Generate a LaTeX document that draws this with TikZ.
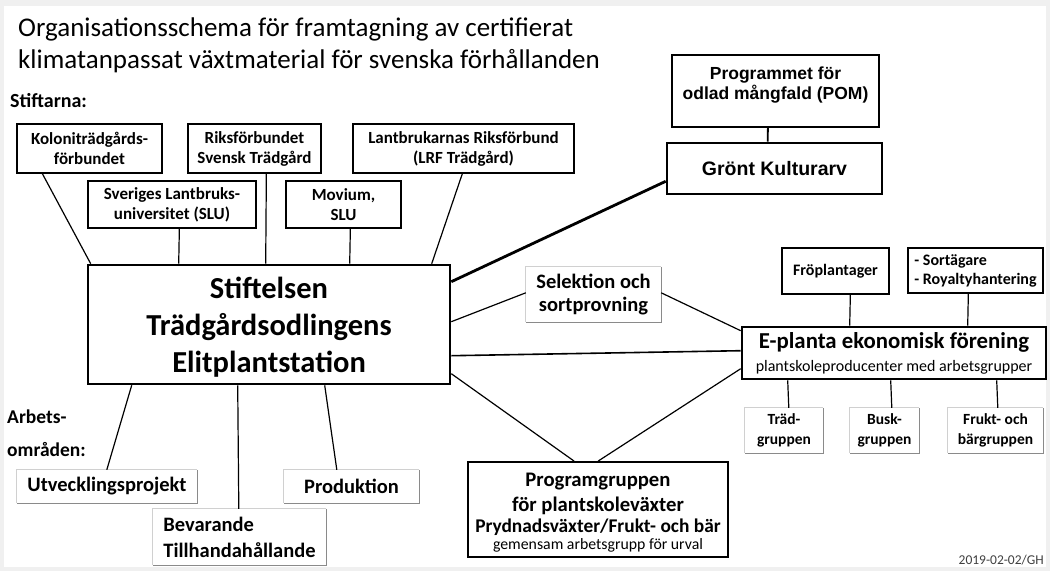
\documentclass[tikz,border=0pt]{standalone}
\usepackage{fontspec}
\setmainfont{Carlito}
\newfontfamily\arialf{Liberation Sans}
\definecolor{outerbg}{HTML}{F0F0F0}
\definecolor{lightedge}{HTML}{D0D0D0}
\definecolor{darkedge}{HTML}{8A8A8A}
\definecolor{dategray}{HTML}{404040}
\begin{document}
\begin{tikzpicture}[x=1pt,y=-1pt,
  box/.style={draw, fill=white, align=center, inner sep=0pt},
  stbox/.style={box, line width=1.3pt, font=\bfseries\fontsize{17}{20}\selectfont},
  mainbox/.style={box, line width=2.6pt},
  maintext/.style={inner sep=0pt, align=center, font=\bfseries\fontsize{30.5}{37}\selectfont},
  pombox/.style={box, line width=2.2pt},
  pomtext/.style={inner sep=0pt, align=center, font=\arialf\bfseries\fontsize{17.5}{20}\selectfont},
  grbox/.style={box, line width=2.6pt, font=\arialf\bfseries\fontsize{19.5}{22}\selectfont},
  eplbox/.style={box, line width=2.6pt, font=\fontsize{22.8}{23}\selectfont},
  progbox/.style={box, line width=1.8pt},
  progtext/.style={inner sep=0pt, anchor=base},
  shbox/.style={fill=white, align=center, inner sep=0pt},
  shtext/.style={shbox, font=\bfseries\fontsize{20.5}{23}\selectfont},
  smtext/.style={shbox, font=\bfseries\fontsize{15.5}{20}\selectfont},
  rbox/.style={box, line width=1.3pt, font=\bfseries\fontsize{16}{19}\selectfont},
  conn/.style={line width=1.2pt},
  thickconn/.style={line width=2.8pt},
  lbl/.style={inner sep=0pt, anchor=base west}
]
\useasboundingbox (0,0) rectangle (1050,571);
\fill[outerbg] (0,0) rectangle (1050,571);
\fill[white] (4,6) rectangle (1046,567);

% title and labels
\node[lbl, font=\fontsize{27}{30}\selectfont] (t1) at (18,36) {Organisationsschema för framtagning av certifierat};
\node[lbl, font=\fontsize{27}{30}\selectfont] (t2) at (18,68) {klimatanpassat växtmaterial för svenska förhållanden};
\node[lbl, font=\bfseries\fontsize{20}{20}\selectfont] (stiftarna) at (10,107) {Stiftarna:};
\node[lbl, font=\bfseries\fontsize{19.5}{20}\selectfont] (arb1) at (7,423) {Arbets-};
\node[lbl, font=\bfseries\fontsize{19.5}{20}\selectfont] (arb2) at (7,456) {områden:};
\node[inner sep=0pt, anchor=base east, text=dategray, font=\fontsize{13.5}{14}\selectfont] (date) at (1044,564) {2019-02-02/GH};

% founders
\node[stbox, minimum width=145, minimum height=49] (kolo) at (89.5,148.5) {Koloniträdgårds-\\förbundet};
\node[stbox, minimum width=133, minimum height=49] (riks) at (254.5,148.5) {Riksförbundet\\Svensk Trädgård};
\node[stbox, minimum width=221, minimum height=49] (lrf) at (463.5,148.5) {Lantbrukarnas Riksförbund\\(LRF Trädgård)};
\node[stbox, minimum width=168, minimum height=47] (slu) at (172,204.5) {Sveriges Lantbruks-\\universitet (SLU)};
\node[stbox, minimum width=115, minimum height=47] (mov) at (343.5,204.5) {Movium,\\SLU};

% main
\node[mainbox, minimum width=362, minimum height=119] (stift) at (269,324.5) {};
\node[maintext] (stifttext) at ([yshift=-3pt]stift.center) {Stiftelsen\\Trädgårdsodlingens\\Elitplantstation};

% POM and Gront Kulturarv
\node[pombox, minimum width=207, minimum height=72] (pom) at (775.5,91) {};
\node[pomtext] (pomtext) at ([yshift=6pt]pom.center) {Programmet för\\odlad mångfald (POM)};
\node[grbox, minimum width=215, minimum height=51] (gront) at (774.5,168.5) {Grönt Kulturarv};

% Selektion
\node[shtext, minimum width=135, minimum height=55] (selek) at (593.5,294.5) {Selektion och\\sortprovning};

% E-planta
\node[rbox, minimum width=107, minimum height=46] (frop) at (835.5,271) {Fröplantager};
\node[rbox, align=left, minimum width=135, minimum height=45] (sort) at (975.5,270.5) {- Sortägare\\- Royaltyhantering};
\node[eplbox, minimum width=304, minimum height=52] (epl) at (894,353) {{\bfseries E-planta ekonomisk förening}\\{\fontsize{16}{18}\selectfont plantskoleproducenter med arbetsgrupper}};
\node[smtext, minimum width=78, minimum height=45] (trad) at (784,430.5) {Träd-\\gruppen};
\node[smtext, minimum width=69, minimum height=45] (busk) at (884.5,430.5) {Busk-\\gruppen};
\node[smtext, minimum width=95, minimum height=45] (frukt) at (995.5,430.5) {Frukt- och\\bärgruppen};

% Programgruppen
\node[progbox, minimum width=260, minimum height=95] (prog) at (598,509.5) {};
\node[progtext, font=\bfseries\fontsize{20.7}{24}\selectfont] (pg1) at ([yshift=-25pt]prog.north) {Programgruppen};
\node[progtext, font=\bfseries\fontsize{20.7}{24}\selectfont] (pg2) at ([yshift=-50pt]prog.north) {för plantskoleväxter};
\node[progtext, font=\bfseries\fontsize{19.4}{22}\selectfont] (pg3) at ([yshift=-71pt]prog.north) {Prydnadsväxter/Frukt- och bär};
\node[progtext, font=\fontsize{15.8}{18}\selectfont] (pg4) at ([yshift=-88.5pt]prog.north) {gemensam arbetsgrupp för urval};

% work areas
\node[shtext, minimum width=180, minimum height=33] (utv) at (107,486.5) {Utvecklingsprojekt};
\node[shtext, align=left, font=\bfseries\fontsize{20.5}{26}\selectfont, minimum width=173, minimum height=56] (bev) at (239.5,537) {Bevarande\\Tillhandahållande};
\node[shtext, minimum width=135, minimum height=33] (prod) at (351.5,486.5) {Produktion};

% shaded edges
\foreach \n in {selek,trad,busk,frukt,utv,bev,prod}{
  \draw[lightedge, line width=1pt] (\n.south west) |- (\n.north east);
  \draw[darkedge, line width=1.2pt] (\n.north east) |- (\n.south west);
}

% connectors founders
\draw[conn] ([xshift=26pt]kolo.south west) -- ([xshift=4pt]stift.north west);
\draw[conn] ([xshift=92pt]slu.south west) -- ([xshift=92pt]stift.north west);
\draw[conn] ([xshift=79pt]riks.south west) -- ([xshift=179pt]stift.north west);
\draw[conn] ([xshift=65pt]mov.south west) -- ([xshift=263pt]stift.north west);
\draw[conn] ([xshift=110pt]lrf.south west) -- ([xshift=345pt]stift.north west);

% POM - Gront
\draw[conn, line width=1.8pt] ([xshift=97pt]pom.south west) -- ([xshift=102pt]gront.north west);
\draw[thickconn] ([yshift=-18pt]stift.north east) -- ([yshift=14pt]gront.south west);

% right side
\draw[conn] ([yshift=-58pt]stift.north east) -- ([yshift=-26pt]selek.north west);
\draw[conn] ([yshift=-26pt]selek.north east) -- ([yshift=-5pt]epl.north west);
\draw[conn, line width=1.6pt] ([yshift=-92pt]stift.north east) -- ([yshift=-25pt]epl.north west);
\draw[conn] ([yshift=-110pt]stift.north east) -- ([xshift=107pt]prog.north west);
\draw[conn] ([yshift=-43pt]epl.north west) -- ([xshift=131pt]prog.north west);

% E-planta links
\draw[conn] ([xshift=69pt]frop.south west) -- ([xshift=109pt]epl.north west);
\draw[conn] ([xshift=61pt]sort.south west) -- ([xshift=227pt]epl.north west);
\draw[conn] ([xshift=47pt]epl.south west) -- ([xshift=44pt]trad.north west);
\draw[conn] ([xshift=150pt]epl.south west) -- ([xshift=42pt]busk.north west);
\draw[conn] ([xshift=256pt]epl.south west) -- ([xshift=50pt]frukt.north west);

% work area links
\draw[conn] ([xshift=45pt]stift.south west) -- ([xshift=90pt]utv.north west);
\draw[conn] ([xshift=151pt]stift.south west) -- ([xshift=86pt]bev.north west);
\draw[conn] ([xshift=238pt]stift.south west) -- ([xshift=53pt]prod.north west);
\end{tikzpicture}
\end{document}
